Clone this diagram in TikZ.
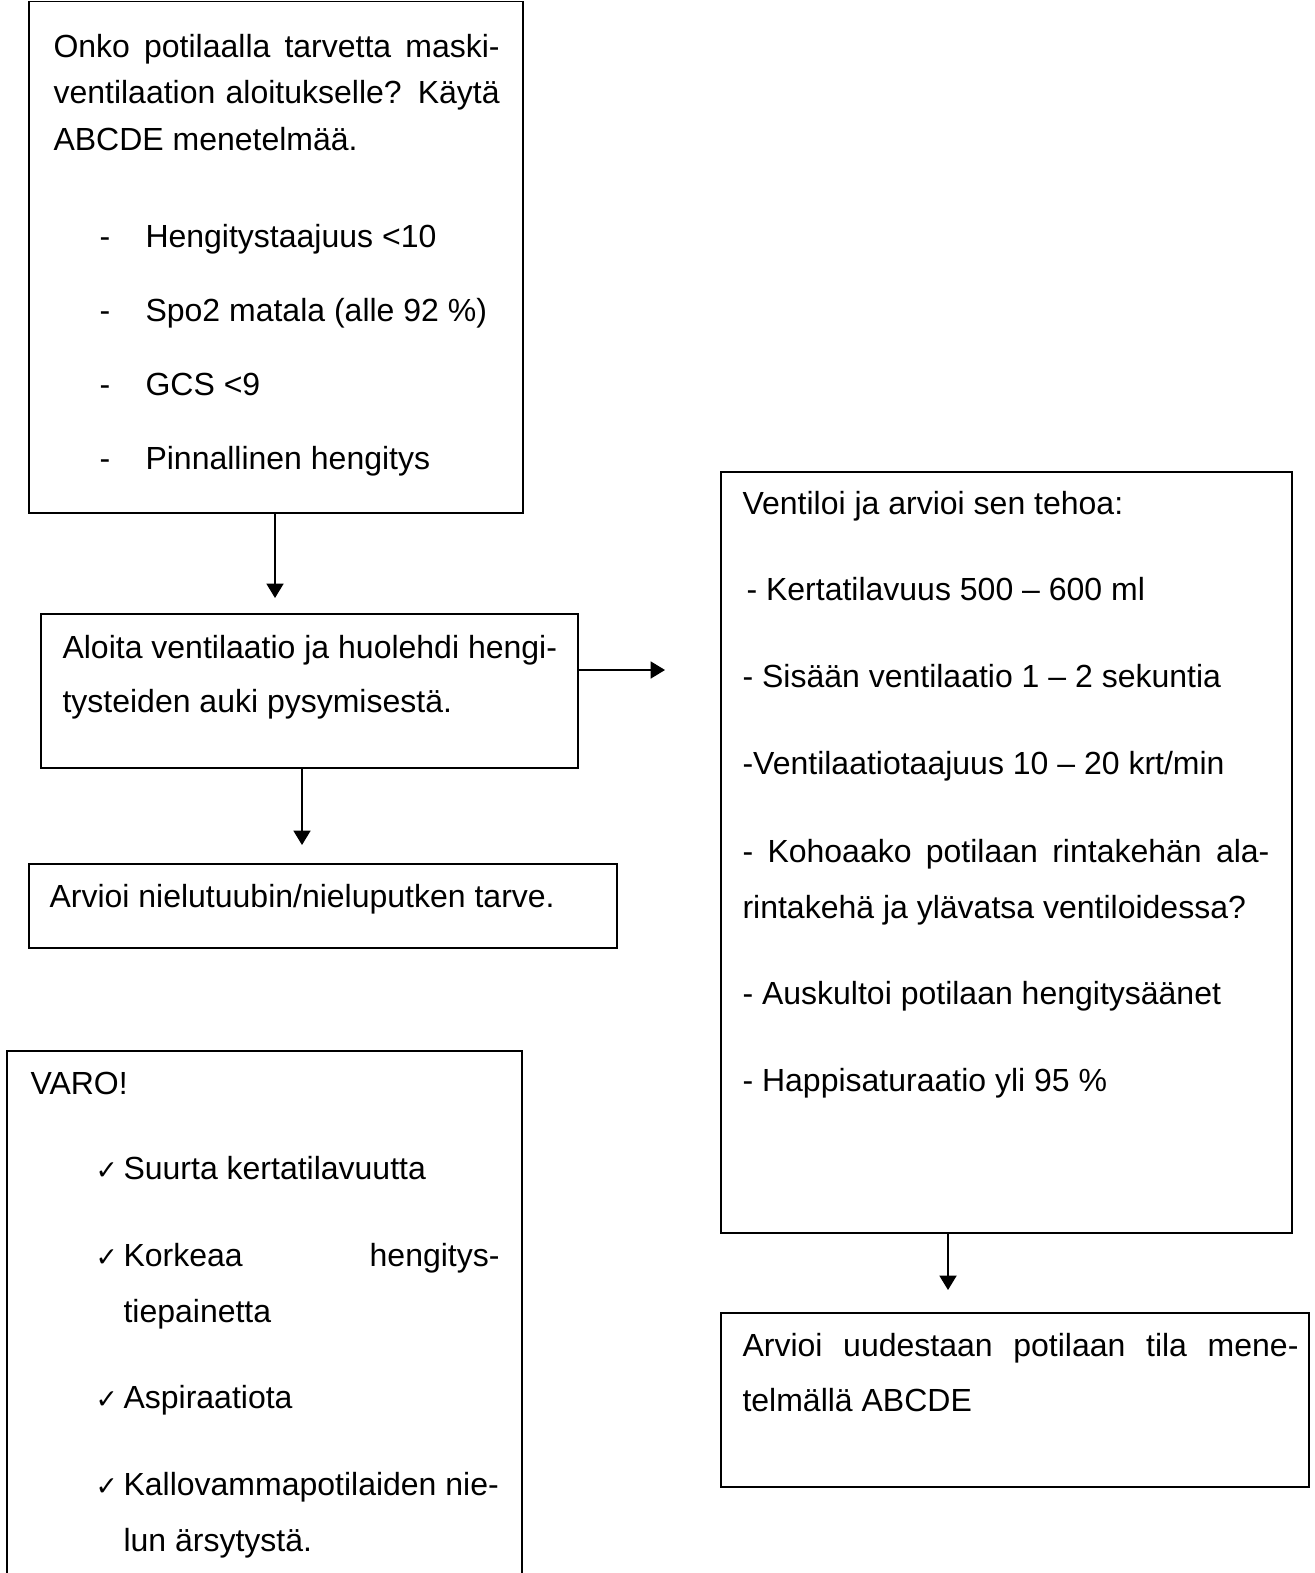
\documentclass[tikz,border=0pt]{standalone}
\usepackage{fontspec}
\setmainfont{Liberation Sans}
\newfontfamily\checkfont{DejaVu Sans}
\usetikzlibrary{positioning, arrows.meta, calc}

\begin{document}
\begin{tikzpicture}[
  x=0.375pt, y=-0.375pt,
  every node/.style={font=\fontsize{12}{14}\selectfont},
  box/.style={draw, line width=0.6pt, inner sep=0pt, outer sep=0pt},
  txt/.style={anchor=base west, inner sep=0pt},
  tick/.style={txt, font=\checkfont\fontsize{10}{12}\selectfont},
  arr/.style={line width=0.6pt, -{Triangle[length=5.4pt, width=6.4pt]}}
]
\useasboundingbox (0,0) rectangle (1314,1573);
\clip (0,0) rectangle (1314,1573);

% ---- LEFT COLUMN: assessment boxes ----
\node[box, minimum width=185.25pt, minimum height=191.8pt] (onko) at (276, 257.25) {};
\node[txt] (onko-1) at (53, 58) {\makebox[167.3pt][s]{Onko potilaalla tarvetta maski-}};
\node[txt] (onko-2) at (53, 104) {\makebox[167.3pt][s]{ventilaation aloitukselle? Käytä}};
\node[txt] (onko-3) at (53, 151) {ABCDE menetelmää.};
\node[txt] (onko-a) at (99, 247) {\makebox[17.25pt][l]{-}Hengitystaajuus <10};
\node[txt] (onko-b) at (99, 321) {\makebox[17.25pt][l]{-}Spo2 matala (alle 92 \%)};
\node[txt] (onko-c) at (99, 395) {\makebox[17.25pt][l]{-}GCS <9};
\node[txt] (onko-d) at (99, 469) {\makebox[17.25pt][l]{-}Pinnallinen hengitys};

\node[box, minimum width=201.4pt, minimum height=57.75pt] (aloita) at (309.5, 691) {};
\node[txt] (aloita-1) at (62, 658) {Aloita ventilaatio ja huolehdi hengi-};
\node[txt] (aloita-2) at (62, 712) {tysteiden auki pysymisestä.};

\node[box, minimum width=220.5pt, minimum height=31.5pt] (arvioi) at (323, 906) {};
\node[txt] (arvioi-1) at (49, 907) {Arvioi nielutuubin/nieluputken tarve.};

% ---- VARO box (runs off the bottom) ----
\node[box, minimum width=193.1pt, minimum height=202.5pt] (varo) at (264.5, 1321) {};
\node[txt] (varo-0) at (30, 1094) {VARO!};
\node[tick] (tick-a) at (95, 1179) {✓};
\node[txt] (varo-a) at (123, 1179) {Suurta kertatilavuutta};
\node[tick] (tick-b) at (95, 1266) {✓};
\node[txt] (varo-b) at (123, 1266) {\makebox[141pt][s]{Korkeaa hengitys-}};
\node[txt] (varo-b2) at (123, 1322) {tiepainetta};
\node[tick] (tick-c) at (95, 1408) {✓};
\node[txt] (varo-c) at (123, 1408) {Aspiraatiota};
\node[tick] (tick-d) at (95, 1495) {✓};
\node[txt] (varo-d) at (123, 1495) {Kallovammapotilaiden nie-};
\node[txt] (varo-d2) at (123, 1551) {lun ärsytystä.};

% ---- RIGHT COLUMN ----
\node[box, minimum width=214.1pt, minimum height=285.4pt] (ventiloi) at (1006.5, 852.5) {};
\node[txt] (vent-0) at (742, 514) {Ventiloi ja arvioi sen tehoa:};
\node[txt] (vent-a) at (746, 600) {- Kertatilavuus 500 – 600 ml};
\node[txt] (vent-b) at (742, 687) {- Sisään ventilaatio 1 – 2 sekuntia};
\node[txt] (vent-c) at (742, 774) {-Ventilaatiotaajuus 10 – 20 krt/min};
\node[txt] (vent-d) at (742, 862) {\makebox[197.6pt][s]{- Kohoaako potilaan rintakehän ala-}};
\node[txt] (vent-d2) at (742, 918) {rintakehä ja ylävatsa ventiloidessa?};
\node[txt] (vent-e) at (742, 1004) {- Auskultoi potilaan hengitysäänet};
\node[txt] (vent-f) at (742, 1091) {- Happisaturaatio yli 95 \%};

\node[box, minimum width=220.5pt, minimum height=65.25pt] (uudestaan) at (1015, 1400) {};
\node[txt] (uud-1) at (742, 1356) {\makebox[208.5pt][s]{Arvioi uudestaan potilaan tila mene-}};
\node[txt] (uud-2) at (742, 1411) {telmällä ABCDE};

% ---- ARROWS ----
\coordinate (tipAloita) at (275, 598);
\coordinate (tipArvioi) at (302, 845);
\coordinate (tipVent) at (665, 670);
\coordinate (tipUud) at (948, 1290);
\draw[arr] (onko.south -| tipAloita) -- (tipAloita);
\draw[arr] (aloita.south -| tipArvioi) -- (tipArvioi);
\draw[arr] (aloita.east |- tipVent) -- (tipVent);
\draw[arr] (ventiloi.south -| tipUud) -- (tipUud);

\end{tikzpicture}
\end{document}
